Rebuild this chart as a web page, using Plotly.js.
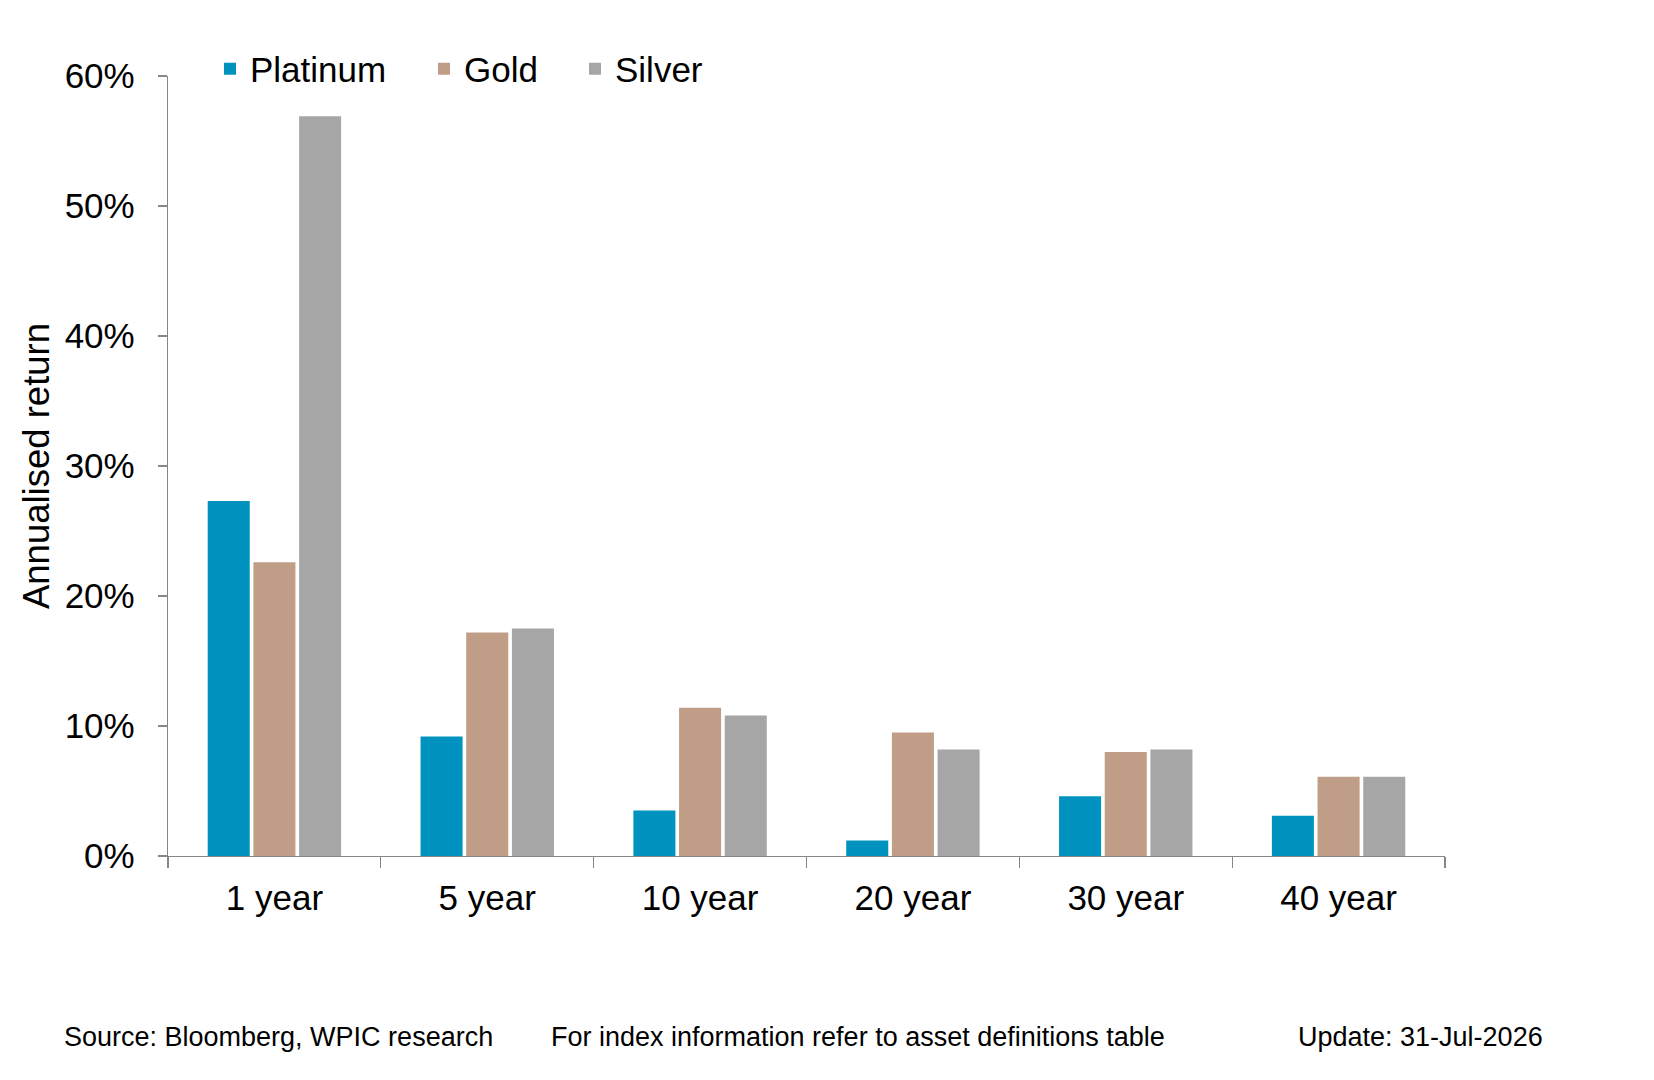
<!DOCTYPE html>
<html>
<head>
<meta charset="utf-8">
<script src="https://cdn.plot.ly/plotly-3.0.1.min.js"></script>
<style>html,body{margin:0;padding:0;background:#fff;}#chart{width:1654px;height:1080px;}</style>
</head>
<body>
<div id="chart"></div>
<script>
const categories = ["1 year", "5 year", "10 year", "20 year", "30 year", "40 year"];
const platinum = [0.273, 0.092, 0.035, 0.012, 0.046, 0.031];
const gold     = [0.226, 0.172, 0.114, 0.095, 0.080, 0.061];
const silver   = [0.569, 0.175, 0.108, 0.082, 0.082, 0.061];
const seriesNames = ["Platinum", "Gold", "Silver"];
const colors = ["#0093BF", "#BF9D87", "#A6A6A6"];
const footerLeft = "Source: Bloomberg, WPIC research";
const footerMid = "For index information refer to asset definitions table";
const footerRight = "Update: 31-Jul-2026";

const FONT = "Liberation Sans, Arial, sans-serif";
const values = [platinum, gold, silver];
const legendIds = ["legend", "legend2", "legend3"];

const traces = values.map((v, i) => ({
  type: "bar",
  name: seriesNames[i],
  x: categories,
  y: v,
  marker: {color: colors[i], line: {width: 0}},
  legend: legendIds[i],
  hoverinfo: "skip"
}));

const legendBase = {
  orientation: "h",
  xref: "container", yref: "container",
  yanchor: "middle",
  y: 1 - 69 / 1080,
  font: {family: FONT, size: 35, color: "#000"},
  bgcolor: "rgba(0,0,0,0)",
  borderwidth: 0
};

const footerY = (856 - 1037) / 780;

const layout = {
  width: 1654, height: 1080,
  paper_bgcolor: "#fff", plot_bgcolor: "#fff",
  margin: {l: 168, r: 209, t: 76, b: 224, pad: 0, autoexpand: false},
  barmode: "group",
  bargap: 0.356,
  bargroupgap: 0.08,
  font: {family: FONT, size: 35, color: "#000"},
  showlegend: true,
  legend: Object.assign({}, legendBase, {x: 210 / 1654}),
  legend2: Object.assign({}, legendBase, {x: 424 / 1654}),
  legend3: Object.assign({}, legendBase, {x: 575 / 1654}),
  xaxis: {
    type: "category",
    showgrid: false,
    zeroline: false,
    showline: true, linecolor: "#878787", linewidth: 1.3,
    ticks: "outside", tickson: "boundaries", ticklen: 11, tickcolor: "#878787", tickwidth: 1.3,
    tickfont: {family: FONT, size: 35, color: "#000"},
    ticklabelstandoff: 11,
    fixedrange: true
  },
  yaxis: {
    range: [0, 0.6],
    dtick: 0.1,
    tickformat: ".0%",
    showgrid: false,
    zeroline: false,
    showline: true, linecolor: "#878787", linewidth: 1.3,
    ticks: "outside", ticklen: 9, tickcolor: "#878787", tickwidth: 1.3,
    tickfont: {family: FONT, size: 35, color: "#000"},
    ticklabelstandoff: 16,
    title: {text: "Annualised return", font: {family: FONT, size: 36.5, color: "#000"}, standoff: 4},
    fixedrange: true
  },
  annotations: [
    {text: footerLeft, xref: "paper", yref: "paper", x: (62 - 168) / 1277, y: footerY,
     xanchor: "left", yanchor: "middle", showarrow: false, font: {family: FONT, size: 27, color: "#000"}},
    {text: footerMid, xref: "paper", yref: "paper", x: (549 - 168) / 1277, y: footerY,
     xanchor: "left", yanchor: "middle", showarrow: false, font: {family: FONT, size: 27, color: "#000"}},
    {text: footerRight, xref: "paper", yref: "paper", x: (1545 - 168) / 1277, y: footerY,
     xanchor: "right", yanchor: "middle", showarrow: false, font: {family: FONT, size: 27, color: "#000"}}
  ]
};

Plotly.newPlot("chart", traces, layout, {displayModeBar: false, staticPlot: true});
</script>
</body>
</html>
